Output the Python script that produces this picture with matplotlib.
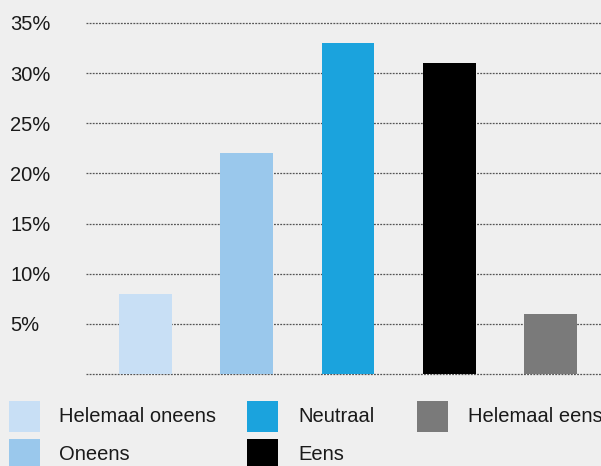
import matplotlib
matplotlib.use("Agg")
import matplotlib.pyplot as plt
from matplotlib.patches import Rectangle

categories = ["Helemaal oneens", "Oneens", "Neutraal", "Eens", "Helemaal eens"]
values = [8, 22, 33, 31, 6]
colors = ["#c8dff5", "#9ac8ec", "#1ba3dd", "#000000", "#7a7a7a"]
yticks = [5, 10, 15, 20, 25, 30, 35]
ytick_labels = ["5%", "10%", "15%", "20%", "25%", "30%", "35%"]

W, H = 601, 466
bg = "#efefef"
font = "Liberation Sans"

fig = plt.figure(figsize=(W / 100, H / 100), dpi=100, facecolor=bg)
ax = fig.add_axes([86 / W, 1 - 374 / H, (W - 86) / W, (374 - 23) / H])
ax.set_facecolor(bg)

x = list(range(len(categories)))
ax.bar(x, values, width=0.523, color=colors, zorder=3)
ax.set_xlim(-0.588, 4.499)
ax.set_ylim(0, 35)

for y in [0] + yticks:
    ax.axhline(y, color="#555555", linewidth=0.9, linestyle=(0, (1.5, 1)), zorder=1, clip_on=False)

for s in ax.spines.values():
    s.set_visible(False)
ax.set_xticks([])
ax.set_yticks(yticks)
ax.set_yticklabels(ytick_labels, fontsize=14.5, fontfamily=font, color="#1a1a1a", ha="left")
for lbl in ax.get_yticklabels():
    lbl.set_y(0)
ax.tick_params(axis="y", length=0, pad=(86 - 10) * 0.72)

# legend, filled column by column
col_x = [9, 247, 417]
text_x = [59, 298, 468]
row_y = [401, 439]
for i, (cat, col) in enumerate(zip(categories, colors)):
    c, r = divmod(i, 2)
    px, py = col_x[c], row_y[r]
    fig.add_artist(Rectangle((px / W, 1 - (py + 31) / H), 31 / W, 31 / H,
                             transform=fig.transFigure, facecolor=col, edgecolor="none"))
    fig.text(text_x[c] / W, 1 - (py + 15.5) / H, cat, fontsize=14.5, fontfamily=font,
             color="#1a1a1a", va="center", ha="left")

fig.savefig("out.png", dpi=100, facecolor=bg)
